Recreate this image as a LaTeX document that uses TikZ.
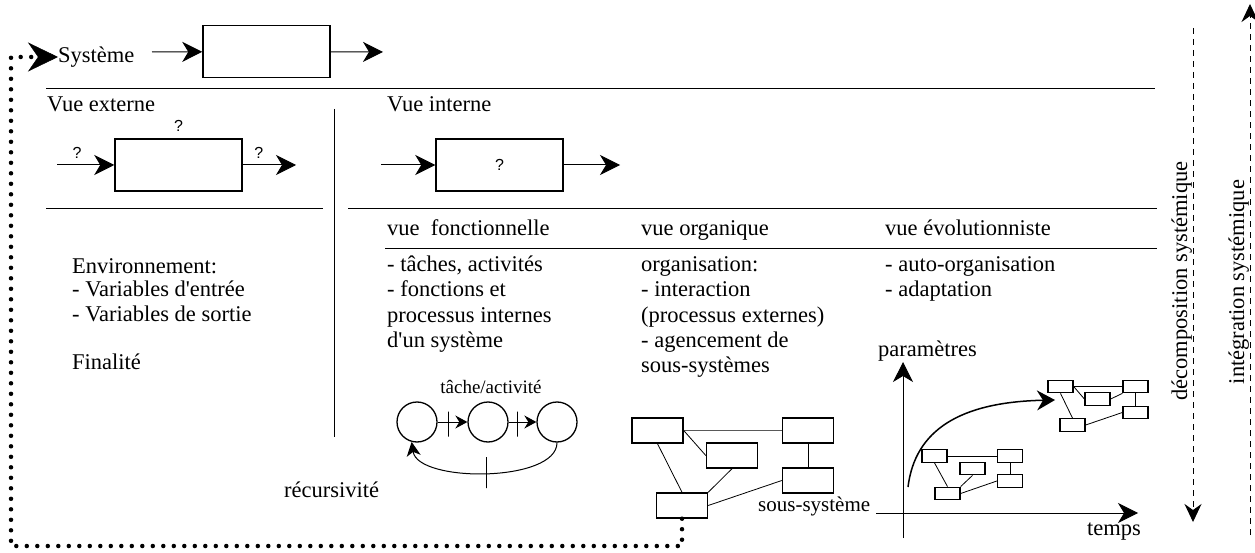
\documentclass[tikz,border=0pt]{standalone}
\usepackage{fontspec}
\setmainfont{Liberation Serif}
\newfontfamily\qfont{Liberation Sans}
\usetikzlibrary{arrows.meta, positioning}

\begin{document}
\begin{tikzpicture}[x=1pt,y=-1pt,>={Stealth[length=20pt,width=20pt,inset=6pt]},
		font=\fontsize{22.5}{25}\selectfont]
		\tikzstyle{txt}=[anchor=base west, inner sep=0pt]
		\tikzstyle{qmark}=[inner sep=0pt, font=\qfont\fontsize{16}{18}\selectfont]
		\tikzstyle{bigbox}=[draw, line width=1.5pt, minimum width=127pt, minimum height=52pt, inner sep=0pt]
		\tikzstyle{subbox}=[draw, line width=1.4pt, minimum width=51pt, minimum height=25pt, inner sep=0pt]
		\tikzstyle{tinybox}=[draw, line width=1.3pt, minimum width=25pt, minimum height=12.5pt, inner sep=0pt]
		\tikzstyle{task}=[circle, draw, line width=1.3pt, minimum size=40pt, inner sep=0pt]
		\tikzstyle{flow}=[->, line width=1pt]
		\tikzstyle{link}=[line width=0.8pt]
		\tikzstyle{sep}=[line width=1pt]
		\tikzstyle{tick}=[draw, line width=0.8pt, minimum width=0pt, inner sep=0pt]
		\tikzstyle{dots}=[line width=4.5pt, dash pattern=on 0pt off 10.5pt, line cap=round]
		\tikzstyle{levels}=[line width=1pt, dash pattern=on 6pt off 5pt]
		\useasboundingbox (0,0) rectangle (1255,553);

		% systeme
		\node[txt] (systxt) at (58,63) {Système};
		\node[bigbox] (sys) at (266.5,51.5) {};
		\coordinate (sysin) at (152,52);
		\coordinate (sysout) at (383,52);
		\draw[flow] (sysin) -- (sys);
		\draw[flow] (sys) -- (sysout);
		\draw[sep] (46,89) -- (1155,89);

		% vue externe
		\node[txt] (vext) at (47,112) {Vue externe};
		\node[bigbox] (ext) at (178.5,165) {};
		\node[qmark, above=7pt of ext] (qtop) {?};
		\coordinate (extin) at (57,165);
		\coordinate (extout) at (296,165);
		\draw[flow] (extin) -- (ext) node[qmark, pos=0.35, above=6pt] (qin) {?};
		\draw[flow] (ext) -- (extout) node[qmark, pos=0.3, above=6pt] (qout) {?};
		\draw[sep] (46,209) -- (323,209);
		\draw[sep] (334,109) -- (334,437);

		\node[txt] (env1) at (72,273) {Environnement:};
		\node[txt] (env2) at (72,297) {- Variables d\textquotesingle entrée};
		\node[txt] (env3) at (72,321) {- Variables de sortie};
		\node[txt] (fin) at (72,369) {Finalité};
		\node[txt] (rec) at (284,497) {récursivité};

		% vue interne
		\node[txt] (vint) at (387,112) {Vue interne};
		\node[bigbox, qmark] (int) at (499.5,165) {?};
		\coordinate (intin) at (381,165);
		\coordinate (intout) at (620,165);
		\draw[flow] (intin) -- (int);
		\draw[flow] (int) -- (intout);
		\draw[sep] (348,209) -- (1157,209);

		\node[txt] (h1) at (387,236) {vue\ \ fonctionnelle};
		\node[txt] (h2) at (641,236) {vue organique};
		\node[txt] (h3) at (885,236) {vue évolutionniste};
		\draw[sep] (385,249) -- (1157,249);

		\node[txt] (f1) at (387,272) {- tâches, activités};
		\node[txt] (f2) at (387,297) {- fonctions et};
		\node[txt] (f3) at (387,322) {processus internes};
		\node[txt] (f4) at (387,347) {d\textquotesingle un système};

		\node[txt] (o1) at (641,272) {organisation:};
		\node[txt] (o2) at (641,297) {- interaction};
		\node[txt] (o3) at (641,322) {(processus externes)};
		\node[txt] (o4) at (641,347) {- agencement de};
		\node[txt] (o5) at (641,372) {sous-systèmes};

		\node[txt] (e1) at (885,272) {- auto-organisation};
		\node[txt] (e2) at (885,297) {- adaptation};

		% taches
		\node[anchor=base, inner sep=0pt, font=\fontsize{19}{20}\selectfont] (tlab) at (491,393) {tâche/activité};
		\node[task] (c1) at (417,422) {};
		\node[task] (c2) at (488,422) {};
		\node[task] (c3) at (557,422) {};
		\path[->, line width=1pt, >={Stealth[length=12pt,width=13pt,inset=4pt]}]
			(c1) edge node[tick, pos=0.35, minimum height=25pt, yshift=-2pt] {} (c2)
			(c2) edge node[tick, pos=0.31, minimum height=25pt, yshift=-2pt] {} (c3);
		\draw[->, line width=1pt, >={Stealth[length=14pt,width=14pt,inset=4pt]}]
			(c3.south) .. controls +(0,40) and +(6,41) .. (c1.-105)
			node[tick, pos=0.5, minimum height=31pt] {};

		% sous-systemes
		\node[subbox] (A) at (657.5,430.5) {};
		\node[subbox] (B) at (732,455.5) {};
		\node[subbox] (C) at (808,430.5) {};
		\node[subbox] (D) at (808,480.5) {};
		\node[subbox] (E) at (682,505.5) {};
		\draw[link, black!65] (A.east) -- (C.west);
		\draw[link] (A.east) -- (B.west);
		\draw[link] (A.south) -- (E.north);
		\draw[link] (B.south) -- (E.north east);
		\draw[link] (C.south) -- (D.north);
		\draw[link] (D.west) -- (E.east);
		\node[txt, font=\fontsize{21}{24}\selectfont] (sslab) at (758,511) {sous-système};

		% recursivite
		\coordinate (r1) at (682,546);
		\coordinate (r2) at (11,546);
		\coordinate (r3) at (11,57);
		\coordinate (r4) at (58,57);
		\draw[dots, -{Stealth[length=30pt,width=29pt,inset=10pt,line width=0.5pt]}]
			(E.south) -- (r1) -- (r2) -- (r3) -- (r4);

		% evolution
		\coordinate (ax0) at (903,538);
		\coordinate (ax1) at (903,362);
		\coordinate (ay0) at (876,513);
		\coordinate (ay1) at (1138,513);
		\draw[flow] (ax0) -- (ax1);
		\draw[flow] (ay0) -- (ay1);
		\node[txt] (plab) at (878,356) {paramètres};
		\node[txt] (tplab) at (1087,535) {temps};

		\node[tinybox] (L1) at (934.5,456) {};
		\node[tinybox] (L2) at (972.5,468.5) {};
		\node[tinybox] (L3) at (1010,456) {};
		\node[tinybox] (L4) at (1010,481) {};
		\node[tinybox] (L5) at (947.5,493.5) {};
		\draw[link] (L1.east) -- (L3.west);
		\draw[link] (L1.south) -- (L5.north);
		\draw[link] (L2.south) -- (L5.north east);
		\draw[link] (L3.south) -- (L4.north);
		\draw[link] (L4.west) -- (L5.east);

		\node[tinybox] (U1) at (1060.5,386.5) {};
		\node[tinybox] (U2) at (1097.5,399) {};
		\node[tinybox] (U3) at (1135.5,386.5) {};
		\node[tinybox] (U4) at (1135.5,412.5) {};
		\node[tinybox] (U5) at (1072.5,425) {};
		\draw[link] (U1.east) -- (U3.west);
		\draw[link] (U1.east) -- (U2.west);
		\draw[link] (U1.south) -- (U5.north);
		\draw[link] (U2.east) -- (U3.south west);
		\draw[link] (U3.south) -- (U4.north);
		\draw[link] (U4.west) -- (U5.east);

		\coordinate (evo0) at (908,487);
		\coordinate (evo1) at (1055,400);
		\draw[->, line width=1.5pt, >={Stealth[length=18pt,width=20pt,inset=6pt]}]
			(evo0) .. controls (915,430) and (960,402) .. (evo1);

		% decomposition / integration
		\coordinate (dec0) at (1193,28);
		\coordinate (dec1) at (1193,522);
		\coordinate (int0) at (1250,535);
		\coordinate (int1) at (1250,4);
		\draw[levels, ->, >={Stealth[length=18pt,width=17pt,inset=6pt]}] (dec0) -- (dec1);
		\draw[levels, ->, >={Stealth[length=18pt,width=17pt,inset=6pt]}] (int0) -- (int1);
		\node[anchor=base, rotate=90, inner sep=0pt] (declab) at (1187,281) {décomposition systémique};
		\node[anchor=base, rotate=90, inner sep=0pt] (intlab) at (1244,282) {intégration systémique};
	\end{tikzpicture}
\end{document}
